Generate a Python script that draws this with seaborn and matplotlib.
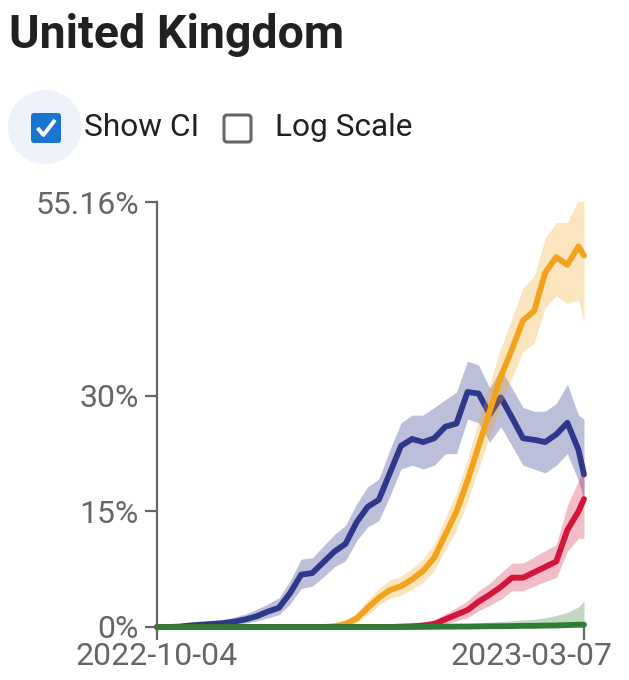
import numpy as np
import pandas as pd
import matplotlib
matplotlib.use("Agg")
import matplotlib.pyplot as plt
import matplotlib.transforms as mtrans
from matplotlib.patches import Circle, FancyBboxPatch
import seaborn as sns

sns.set_style("white")
plt.rcParams['font.family'] = ['Roboto', 'DejaVu Sans']

# days after 2022-10-04, sampled every 4 days
days = [0, 4, 8, 12, 16, 20, 24, 28, 32, 36, 40, 44, 48, 52, 56, 60, 64, 68, 72, 76,
        80, 84, 88, 92, 96, 100, 104, 108, 112, 116, 120, 124, 128, 132, 136, 140,
        144, 148, 152, 154]

blue = [0.0, 0.0, 0.05, 0.2, 0.3, 0.4, 0.5, 0.7, 1.0, 1.4, 2.0, 2.5, 4.4, 6.8, 7.0, 8.4,
        9.8, 10.8, 13.6, 15.6, 16.5, 20.0, 23.5, 24.4, 24.0, 24.5, 26.0, 26.4, 30.5, 30.3,
        27.6, 29.8, 27.2, 24.5, 24.3, 24.0, 25.0, 26.5, 23.0, 19.8]
blue_lo = [0, 0, 0, 0.05, 0.1, 0.15, 0.2, 0.3, 0.5, 0.8, 1.2, 1.6, 3.0, 5.0, 5.3, 6.5,
           7.8, 8.6, 11.2, 13.0, 13.8, 17.0, 20.5, 21.0, 20.5, 21.0, 22.5, 22.5, 27.0, 26.5,
           24.0, 26.0, 23.5, 21.0, 20.5, 20.0, 21.0, 22.5, 19.0, 16.5]
blue_hi = [0, 0.1, 0.2, 0.4, 0.6, 0.8, 1.0, 1.3, 1.7, 2.3, 3.0, 3.8, 6.0, 8.8, 9.0, 10.5,
           12.0, 13.2, 16.0, 18.2, 19.2, 23.0, 26.5, 27.5, 27.5, 28.5, 29.5, 30.5, 34.5, 34.0,
           31.0, 33.5, 31.0, 28.5, 28.0, 28.0, 29.0, 31.5, 27.5, 27.0]

orange = [0.0] * 16 + [0.1, 0.4, 1.1, 2.5, 3.8, 4.8, 5.3, 6.2, 7.3, 9.0, 12.0, 15.0, 19.0,
                       23.5, 28.0, 32.5, 36.0, 39.8, 41.0, 46.0, 48.0, 47.0, 49.4, 48.2]
orange_lo = [0.0] * 16 + [0.0, 0.1, 0.5, 1.6, 2.8, 3.7, 4.1, 4.9, 5.8, 7.3, 10.0, 12.6, 16.3,
                          20.5, 24.8, 29.0, 32.3, 35.8, 36.8, 41.5, 43.0, 42.0, 42.5, 39.5]
orange_hi = [0.0] * 6 + [0.3] * 10 + [0.4, 0.9, 1.8, 3.5, 5.0, 6.1, 6.6, 7.6, 8.9, 10.8, 14.2,
                                      17.5, 21.8, 26.8, 31.5, 36.2, 40.0, 44.0, 45.5, 50.5,
                                      52.5, 52.5, 55.5, 56.0]

red = [0.0] * 22 + [0.05, 0.1, 0.2, 0.4, 1.0, 1.6, 2.2, 3.3, 4.2, 5.2, 6.4, 6.4, 7.1, 7.8,
                    8.5, 12.6, 15.0, 16.6]
red_lo = [0.0] * 22 + [0, 0, 0, 0.1, 0.4, 0.8, 1.2, 2.1, 2.8, 3.6, 4.7, 4.7, 5.3, 5.9, 6.4,
                       9.8, 11.5, 11.5]
red_hi = [0.0] * 22 + [0.2, 0.3, 0.5, 0.9, 1.7, 2.5, 3.4, 4.7, 5.7, 7.0, 8.3, 8.3, 9.1, 9.9,
                       10.7, 15.8, 19.0, 20.5]

green = [0.0] * 24 + [0.02, 0.03, 0.05, 0.05, 0.06, 0.08, 0.1, 0.1, 0.12, 0.15, 0.15, 0.18,
                      0.2, 0.25, 0.3, 0.3]
green_lo = [0.0] * 40
green_hi = [0.05] * 24 + [0.15, 0.25, 0.3, 0.4, 0.45, 0.5, 0.6, 0.7, 0.8, 0.9, 1.0, 1.2, 1.5,
                          1.9, 2.6, 3.4]

y_ticks = [0, 15, 30, 55.16]
y_labels = ["0%", "15%", "30%", "55.16%"]
x_labels = ["2022-10-04", "2023-03-07"]

dates = pd.Timestamp("2022-10-04") + pd.to_timedelta(days, unit="D")

series = [
    ("blue", blue, blue_lo, blue_hi, "#2d388a", 0.32),
    ("orange", orange, orange_lo, orange_hi, "#f3a21c", 0.28),
    ("red", red, red_lo, red_hi, "#d4143b", 0.28),
    ("green", green, green_lo, green_hi, "#2f7d32", 0.3),
]

fig = plt.figure(figsize=(6.29, 6.8), dpi=100)

# header overlay in pixel coords
hdr = fig.add_axes([0, 0, 1, 1])
hdr.set_xlim(0, 629)
hdr.set_ylim(680, 0)
hdr.axis("off")
hdr.text(9, 35, "United Kingdom", fontsize=33.5, fontweight="bold", color="#212121", va="center")
hdr.add_patch(Circle((45, 127), 37, color="#eef3fa", lw=0))
hdr.add_patch(FancyBboxPatch((31, 113), 30, 30, boxstyle="round,pad=0,rounding_size=3",
                             fc="#1b74d1", ec="none"))
hdr.plot([37.5, 43.5, 55], [128, 135, 120], color="white", lw=2.8, solid_capstyle="butt")
hdr.text(84, 128, "Show CI", fontsize=22.8, color="#212121", va="center")
hdr.add_patch(FancyBboxPatch((224, 115), 27, 27, boxstyle="round,pad=0,rounding_size=3",
                             fc="none", ec="#666666", lw=2.2))
hdr.text(275, 128, "Log Scale", fontsize=22.8, color="#212121", va="center")

ax = fig.add_axes([157 / 629, 53 / 680, 427 / 629, 425 / 680])
for name, vals, lo, hi, col, a in series:
    df = pd.DataFrame({"date": dates, "value": vals})
    sns.lineplot(data=df, x="date", y="value", ax=ax, color=col, linewidth=4.2,
                 clip_on=False, zorder=3)
    ax.fill_between(dates, lo, hi, color=col, alpha=a, lw=0, zorder=3)

ax.set_xlim(dates[0], dates[-1])
ax.set_ylim(0, 55.16)
ax.set_xlabel("")
ax.set_ylabel("")
ax.set_yticks(y_ticks)
ax.set_yticklabels(y_labels)
ax.set_xticks([dates[0], dates[-1]])
ax.set_xticklabels(x_labels)

for side in ["top", "right", "bottom"]:
    ax.spines[side].set_visible(False)
ax.spines["left"].set_color("#666666")
ax.spines["left"].set_linewidth(1.6)
ax.tick_params(axis="both", colors="#666666", labelcolor="#666666", labelsize=23,
               length=9, width=1.6, direction="out")
ax.tick_params(axis="y", pad=4)
ax.tick_params(axis="x", pad=2)
ax.tick_params(left=True, bottom=True)

# the last date label is pulled inward so it stays inside the figure
last = ax.get_xticklabels()[-1]
last.set_transform(last.get_transform() + mtrans.ScaledTranslation(-0.53, 0, fig.dpi_scale_trans))

fig.savefig("out.png", dpi=100)
